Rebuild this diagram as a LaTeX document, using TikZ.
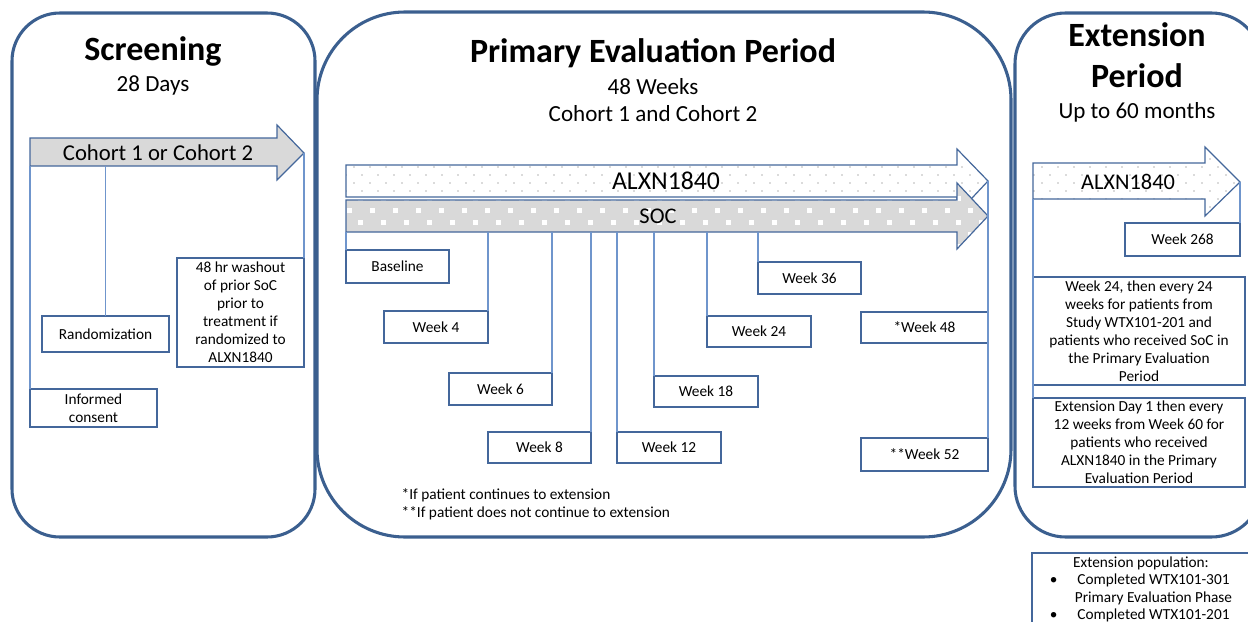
\documentclass[tikz,border=0pt]{standalone}
\usepackage{fontspec}
\setmainfont{Carlito}
\usetikzlibrary{fit}

\definecolor{panelblue}{HTML}{3B5F8F}
\definecolor{boxblue}{HTML}{44679B}
\definecolor{tickblue}{HTML}{6F95CC}
\definecolor{armgray}{HTML}{D9D9D9}
\definecolor{dotgray}{HTML}{B8B8B8}

\tikzset{
  phase/.style={draw=panelblue, line width=2.3pt, inner sep=0pt},
  wkbox/.style={draw=boxblue, line width=0.9pt, fill=white, inner sep=0pt, outer sep=0pt,
    align=center, font=\fontsize{11.5}{13.5}\selectfont},
  boxsize/.style 2 args={minimum width=#1*0.75pt, minimum height=#2*0.75pt},
  tick/.style={draw=tickblue, line width=0.8pt},
  arm/.style={draw=boxblue, line width=0.9pt},
  title/.style={font=\fontsize{25.5}{30}\selectfont\bfseries, anchor=base},
  subtitle/.style={font=\fontsize{17.3}{21}\selectfont, anchor=base},
  armtext/.style={font=\fontsize{#1}{20}\selectfont, anchor=base},
  dotted arm/.style={path picture={
    \foreach \r in {0,...,9}
      \foreach \c in {0,...,60}
        \fill[dotgray] ({#1+8*mod(\r,2)+16*\c}, {143+8*\r}) circle [radius=0.9];
  }},
}

\begin{document}
\begin{tikzpicture}[x=0.75pt, y=-0.75pt]
\useasboundingbox (0,0) rectangle (1248,621);
\clip (0,0) rectangle (1248,621);

% the three periods
\node[phase, rounded corners=36pt, fit={(12,13) (315,537)}] (scr) {};
\node[phase, rounded corners=66pt, fit={(317,12) (1011,537)}] (pep) {};
\node[phase, rounded corners=38pt, fit={(1015,13) (1262,537)}] (ext) {};

\node[title] (scrt) at (153,60) {Screening};
\node[subtitle] (scrd) at (153,91) {28 Days};
\node[title] (pept) at (653,62) {Primary Evaluation Period};
\node[subtitle] (pepw) at (653,94) {48 Weeks};
\node[subtitle] (pepc) at (653,121) {Cohort 1 and Cohort 2};
\node[title] (extt) at (1137,46) {Extension};
\node[title] (extp) at (1137,87) {Period};
\node[subtitle] (extm) at (1137,118) {Up to 60 months};

% screening
\draw[arm, fill=armgray] (30,138) -- (277,138) -- (277,125) -- (304,153) -- (277,180) -- (277,166) -- (30,166) -- cycle;
\node[armtext=17] (coh) at (158,160) {Cohort 1 or Cohort 2};
\coordinate (cohb) at (30,166);
\coordinate (cohtip) at (304,153);

\node[wkbox, boxsize={127}{109}] (wash) at (240.5,312.5) {48 hr washout\\of prior SoC\\prior to\\treatment if\\randomized to\\ALXN1840};
\node[wkbox, boxsize={127}{36}] (rand) at (105.5,334) {Randomization};
\node[wkbox, boxsize={127}{38}] (consent) at (93.5,408) {Informed\\consent};

\draw[tick] (cohb) -- (consent.north west);
\draw[tick] (cohb -| rand.north) -- (rand.north);
\draw[tick] (cohtip) -- (wash.north east);

% primary evaluation
\draw[arm, fill=white, dotted arm=346] (346,165) -- (957,165) -- (957,149) -- (988,181) -- (957,214) -- (957,197) -- (346,197) -- cycle;
\draw[arm, fill=armgray, path picture={
    \foreach \r in {0,...,6}
      \foreach \c in {0,...,28}
        \fill[white] ({346.5+11.5*mod(\r,2)+23*\c}, {183.5+12*\r}) rectangle ++(5,5);
  }] (346,200) -- (957,200) -- (957,183) -- (988,216) -- (957,249) -- (957,232) -- (346,232) -- cycle;
\node[armtext=19.3] (alxn) at (666,189) {ALXN1840};
\node[armtext=16.8] (soc) at (658,223) {SOC};
\coordinate (socb) at (346,232);
\coordinate (alxtip) at (988,181);

\node[wkbox, boxsize={103}{33}] (base) at (397.5,266.5) {Baseline};
\node[wkbox, boxsize={104}{32}] (w4) at (436,327) {Week 4};
\node[wkbox, boxsize={103}{32}] (w6) at (500.5,389) {Week 6};
\node[wkbox, boxsize={103}{31}] (w8) at (539.5,447.5) {Week 8};
\node[wkbox, boxsize={104}{31}] (w12) at (669,447.5) {Week 12};
\node[wkbox, boxsize={104}{31}] (w18) at (706,391.5) {Week 18};
\node[wkbox, boxsize={104}{31}] (w24) at (759,331.5) {Week 24};
\node[wkbox, boxsize={103}{32}] (w36) at (809.5,278) {Week 36};
\node[wkbox, boxsize={127}{31}] (w48) at (924.5,327.5) {*Week 48};
\node[wkbox, boxsize={127}{33}] (w52) at (924.5,454.5) {**Week 52};

\draw[tick] (socb) -- (base.north west);
\foreach \b in {w4,w6,w8}
  \draw[tick] (socb -| \b.north east) -- (\b.north east);
\foreach \b in {w12,w18,w24,w36}
  \draw[tick] (socb -| \b.north west) -- (\b.north west);
\draw[tick] (alxtip) -- (w52.north east);

\node[anchor=base west, font=\fontsize{11.5}{13.5}\selectfont] (note1) at (397,499) {*If patient continues to extension};
\node[anchor=base west, font=\fontsize{11.5}{13.5}\selectfont] (note2) at (397,517) {**If patient does not continue to extension};

% extension
\draw[arm, fill=white, dotted arm=1034] (1033,163) -- (1205,163) -- (1205,147) -- (1240,182) -- (1205,216) -- (1205,199) -- (1033,199) -- cycle;
\node[armtext=16.8] (xalxn) at (1128,189) {ALXN1840};
\coordinate (xtip) at (1240,182);
\coordinate (xbot) at (1033,199);

\node[wkbox, boxsize={115}{33}] (w268) at (1182.5,239.5) {Week 268};
\node[wkbox, boxsize={212}{108}] (xw24) at (1139,331) {Week 24, then every 24\\weeks for patients from\\Study WTX101-201 and\\patients who received SoC in\\the Primary Evaluation\\Period};
\node[wkbox, boxsize={212}{89}] (xd1) at (1139,442.5) {Extension Day 1 then every\\12 weeks from Week 60 for\\patients who received\\ALXN1840 in the Primary\\Evaluation Period};

\draw[tick] (xtip) -- (w268.north east);
\draw[tick] (xbot) -- (xd1.north west);

\node[wkbox, boxsize={220}{137}] (xpop) at (1142,621.5) {};
\node[anchor=north, inner sep=0pt, font=\fontsize{11.5}{13}\selectfont] (xpopt) at (1141,555) {%
  \begin{tabular}{@{}c@{\hspace{13pt}}c@{}}
  \multicolumn{2}{c}{Extension population:}\\
  \textbullet & Completed WTX101-301\\
   & Primary Evaluation Phase\\
  \textbullet & Completed WTX101-201
  \end{tabular}};

\end{tikzpicture}
\end{document}
